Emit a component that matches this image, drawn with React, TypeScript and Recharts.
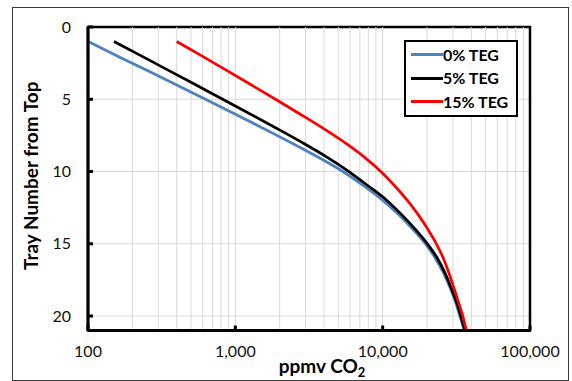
import React from 'react';
import { LineChart, Line, XAxis, YAxis, CartesianGrid, Legend, ReferenceArea, ReferenceLine } from 'recharts';

// tray number (from top) vs ppmv CO2
const trays = [1, 2, 3, 4, 5, 6, 7, 8, 9, 10, 11, 12, 13, 14, 15, 16, 17, 18, 19, 20, 21];
const ppmTeg0 = [100, 158, 251, 397, 627, 986, 1539, 2384, 3634, 5370, 7457, 10030, 12880, 16030, 19490, 22780, 25810, 28570, 31130, 33400, 35840];
const ppmTeg5 = [150, 230, 352, 538, 821, 1252, 1900, 2852, 4182, 5897, 8000, 10680, 13500, 16670, 20110, 23500, 26420, 29020, 31620, 33920, 36130];
const ppmTeg15 = [400, 592, 872, 1280, 1874, 2726, 3930, 5540, 7513, 9723, 12100, 14710, 17470, 20260, 23140, 25810, 28130, 30320, 32630, 35010, 36980];

const xTicks = [100, 1000, 10000, 100000];
const xGridTicks = [
  200, 300, 400, 500, 600, 700, 800, 900,
  1000, 2000, 3000, 4000, 5000, 6000, 7000, 8000, 9000,
  10000, 20000, 30000, 40000, 50000, 60000, 70000, 80000, 90000,
];
const yTicks = [0, 5, 10, 15, 20];

const FONT = 'Lato, "Open Sans", sans-serif';

const toRows = (vals: number[]) => trays.map((t, i) => ({ tray: t, ppm: vals[i] }));

const series = [
  { name: '0% TEG', color: '#4f81bd', data: toRows(ppmTeg0) },
  { name: '5% TEG', color: '#000000', data: toRows(ppmTeg5) },
  { name: '15% TEG', color: '#ff0000', data: toRows(ppmTeg15) },
];
const seriesOrder = series.map((s) => s.name);

const LegendBox = ({ payload }: any) => {
  const items = [...(payload || [])].sort((a: any, b: any) => seriesOrder.indexOf(a.value) - seriesOrder.indexOf(b.value));
  return (
    <div style={{ border: '2px solid #000', background: '#fff', padding: '1px 0 1px 5px', fontFamily: FONT, fontWeight: 700, fontSize: 16, color: '#000' }}>
      {items.map((p: any) => (
        <div key={p.value} style={{ display: 'flex', alignItems: 'center', height: 23.5 }}>
          <span style={{ display: 'inline-block', width: 32, height: 3, background: p.color }} />
          <span style={{ lineHeight: 1 }}>{p.value}</span>
        </div>
      ))}
    </div>
  );
};

const YTitle = ({ viewBox }: any) => {
  const cx = viewBox.x + 2;
  const cy = viewBox.y + viewBox.height / 2 - 3;
  return (
    <text x={cx} y={cy} transform={`rotate(-90 ${cx} ${cy})`} textAnchor="middle" dominantBaseline="central"
      fontFamily={FONT} fontWeight={700} fontSize={19} fill="#000">
      Tray Number from Top
    </text>
  );
};

const XTitle = ({ viewBox }: any) => {
  const cx = viewBox.x + viewBox.width / 2 + 13;
  const cy = viewBox.y + 42;
  return (
    <text x={cx} y={cy} textAnchor="middle" fontFamily={FONT} fontWeight={700} fontSize={19} fill="#000">
      ppmv CO<tspan dy={4} fontSize={13}>2</tspan>
    </text>
  );
};

const tickStyle = { fill: '#111', fontSize: 16, fontFamily: FONT };

export default function App() {
  return (
    <div style={{ position: 'absolute', left: 0, top: 0, width: 572, height: 381, background: '#fff' }}>
      <div style={{ position: 'absolute', left: 12, top: 7, width: 555, height: 372, border: '1px solid #3a3a3a' }} />
      <div style={{ position: 'absolute', left: 0, top: 0 }}>
        <LineChart width={572} height={381} margin={{ top: 27, right: 42, left: 28, bottom: 20.5 }}>
          <CartesianGrid vertical={false} stroke="#d9d9d9" strokeWidth={1} />
          <XAxis
            type="number"
            scale="log"
            dataKey="ppm"
            domain={[100, 100000]}
            ticks={xTicks}
            allowDataOverflow
            height={30}
            stroke="#000"
            strokeWidth={3}
            tickSize={-5}
            tickMargin={20}
            tick={tickStyle}
            tickFormatter={(v: number) => v.toLocaleString('en-US')}
            label={<XTitle />}
          />
          <YAxis
            type="number"
            dataKey="tray"
            domain={[0, 21]}
            ticks={yTicks}
            reversed
            allowDataOverflow
            width={60}
            stroke="#000"
            strokeWidth={3}
            tickSize={-5}
            tickMargin={22}
            tick={tickStyle}
            label={<YTitle />}
          />
          {/* log minor grid */}
          {xGridTicks.map((t) => (
            <ReferenceLine key={t} x={t} stroke="#d9d9d9" strokeWidth={1} />
          ))}
          <ReferenceArea x1={100} x2={100000} y1={0} y2={21} fill="none" stroke="#000" strokeWidth={2.5} ifOverflow="visible" />
          {series.map((s) => (
            <Line
              key={s.name}
              data={s.data}
              dataKey="tray"
              name={s.name}
              type="monotone"
              stroke={s.color}
              strokeWidth={2.75}
              dot={false}
              activeDot={false}
              isAnimationActive={false}
            />
          ))}
          <Legend
            layout="vertical"
            align="center"
            verticalAlign="middle"
            content={<LegendBox />}
            wrapperStyle={{ left: 404, top: 40, width: 114 }}
          />
        </LineChart>
      </div>
    </div>
  );
}
